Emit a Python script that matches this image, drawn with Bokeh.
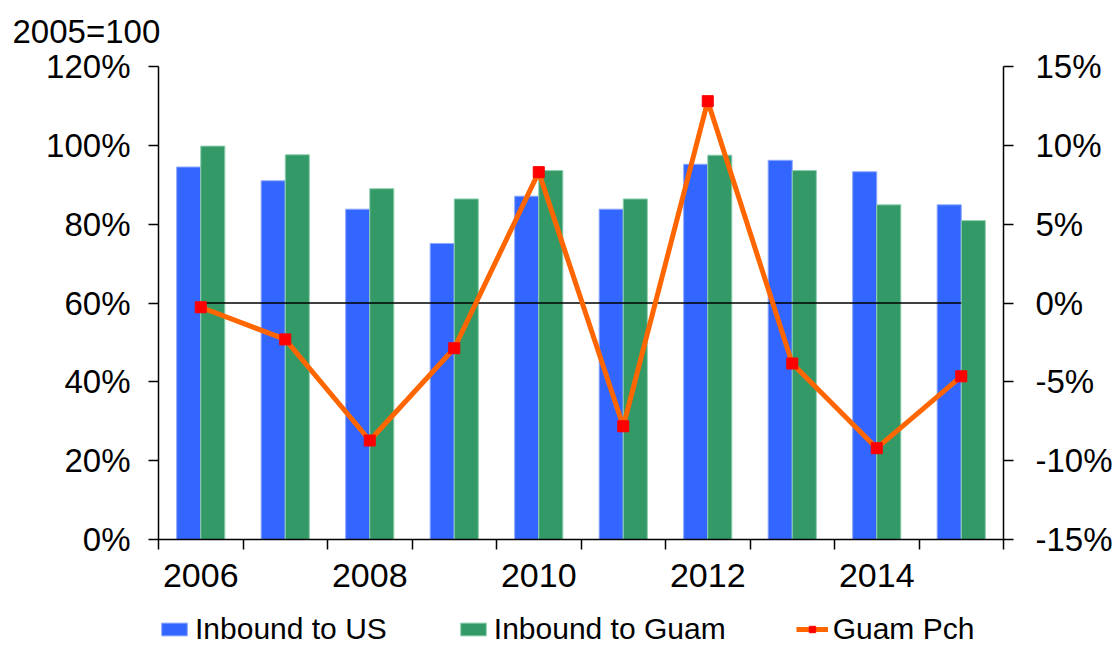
import numpy as np
from bokeh.plotting import figure
from bokeh.layouts import column
from bokeh.models import (Range1d, LinearAxis, FixedTicker, PrintfTickFormatter,
                          Legend, LegendItem, ColumnDataSource)
from bokeh.embed import file_html
from bokeh.resources import INLINE

years = ["2006", "2007", "2008", "2009", "2010", "2011", "2012", "2013", "2014", "2015"]
inbound_us = [94.5, 91.0, 83.8, 75.1, 87.1, 83.8, 95.2, 96.2, 93.3, 84.9]
inbound_guam = [99.8, 97.6, 89.0, 86.4, 93.6, 86.4, 97.5, 93.6, 84.9, 80.9]
guam_pch = [-0.27, -2.31, -8.72, -2.87, 8.3, -7.82, 12.8, -3.84, -9.21, -4.65]
left_ticks = [0, 20, 40, 60, 80, 100, 120]
right_ticks = [-15, -10, -5, 0, 5, 10, 15]
x_label_years = ["2006", "2008", "2010", "2012", "2014"]
series_names = ["Inbound to US", "Inbound to Guam", "Guam Pch"]

FONT = "Liberation Sans"
BLUE = "#3366FF"
GREEN = "#339966"
ORANGE = "#FF6600"
RED = "#FF0000"

n = len(years)
centers = np.arange(n) + 0.5
bw = 0.285
src = ColumnDataSource(dict(
    xb=centers - bw / 2, xg=centers + bw / 2, xc=centers,
    us=inbound_us, guam=inbound_guam, pch=guam_pch))

W = 1117
p = figure(width=W, height=612, output_backend="svg", toolbar_location=None,
           x_range=Range1d(0, n), y_range=Range1d(0, 120),
           min_border_left=158, min_border_right=114, min_border_top=66,
           min_border_bottom=73)
p.outline_line_color = None
p.xgrid.grid_line_color = None
p.ygrid.grid_line_color = None
p.extra_y_ranges = {"pch": Range1d(-15, 15)}

xa = p.below[0]
yl = p.left[0]

p.title.text = "2005=100"
p.title.text_font = FONT
p.title.text_font_size = "33px"
p.title.text_font_style = "normal"
p.title.text_color = "black"
p.title.align = "left"
p.title.offset = -146
p.title.standoff = 0

# invisible spacer axis above the frame (blank label only) so the title sits higher
spacer = LinearAxis(ticker=FixedTicker(ticks=[]), axis_line_color=None,
                    major_tick_line_color=None, minor_tick_line_color=None,
                    major_tick_out=0, major_tick_in=0, minor_tick_out=0,
                    minor_tick_in=0, major_label_standoff=0,
                    axis_label=".", axis_label_text_font_size="20px",
                    axis_label_text_alpha=0, axis_label_standoff=0)
p.add_layout(spacer, "above")

bar_us = dict(fill_color=BLUE, line_color="#8fa8ff", line_width=1)
bar_gu = dict(fill_color=GREEN, line_color="#8fcfb0", line_width=1)
line_kw = dict(line_color=ORANGE, line_width=5)

p.vbar(x="xb", top="us", width=bw, source=src, **bar_us)
p.vbar(x="xg", top="guam", width=bw, source=src, **bar_gu)

p.line(x=[centers[0], centers[-1]], y=[0, 0], y_range_name="pch",
       line_color="black", line_width=1.5)

p.line(x="xc", y="pch", source=src, y_range_name="pch", **line_kw)
p.scatter(x="xc", y="pch", source=src, y_range_name="pch",
          marker="square", size=11, fill_color=RED, line_color=RED)


def style_axis(ax, size="33px"):
    ax.axis_line_color = "black"
    ax.axis_line_width = 1.5
    ax.major_tick_line_color = "black"
    ax.major_tick_line_width = 1.5
    ax.major_tick_in = 0
    ax.major_tick_out = 10
    ax.minor_tick_line_color = None
    ax.major_label_text_font = FONT
    ax.major_label_text_font_size = size
    ax.major_label_text_color = "black"


yl.ticker = FixedTicker(ticks=left_ticks)
yl.formatter = PrintfTickFormatter(format="%d%%")
style_axis(yl)
yl.major_label_standoff = 18

yr = LinearAxis(y_range_name="pch", ticker=FixedTicker(ticks=right_ticks),
                formatter=PrintfTickFormatter(format="%d%%"))
style_axis(yr)
yr.major_label_standoff = 22
p.add_layout(yr, "right")

label_pos = [float(centers[years.index(y)]) for y in x_label_years]
xa.ticker = FixedTicker(ticks=label_pos, minor_ticks=list(range(n + 1)))
xa.major_label_overrides = {pos: lab for pos, lab in zip(label_pos, x_label_years)}
style_axis(xa, "34px")
xa.major_tick_line_color = None
xa.minor_tick_line_color = "black"
xa.minor_tick_line_width = 1.5
xa.minor_tick_in = 0
xa.minor_tick_out = 10
xa.major_label_standoff = 14

# legend strip below the chart
pl = figure(width=W, height=34, output_backend="svg", toolbar_location=None,
            x_range=Range1d(0, 1), y_range=Range1d(0, 1),
            x_axis_type=None, y_axis_type=None,
            min_border=0, min_border_left=0, min_border_right=0,
            min_border_top=0, min_border_bottom=0)
pl.outline_line_color = None
pl.xgrid.grid_line_color = None
pl.ygrid.grid_line_color = None
g_us = pl.vbar(x=[0.5], top=[-5], bottom=[-6], width=0.1, **bar_us)
g_gu = pl.vbar(x=[0.5], top=[-5], bottom=[-6], width=0.1, **bar_gu)
g_ln = pl.line(x=[0.4, 0.6], y=[-5, -5], **line_kw)
g_mk = pl.scatter(x=[0.5], y=[-5], marker="square", size=9, fill_color=RED, line_color=RED)

legend = Legend(items=[
    LegendItem(label=series_names[0], renderers=[g_us]),
    LegendItem(label=series_names[1], renderers=[g_gu]),
    LegendItem(label=series_names[2], renderers=[g_ln, g_mk]),
], orientation="horizontal", location=(0, 0))
legend.label_text_font = FONT
legend.label_text_font_size = "30px"
legend.label_text_color = "black"
legend.glyph_width = 32
legend.glyph_height = 16
legend.label_standoff = 5
legend.spacing = 70
legend.padding = 0
legend.margin = 0
legend.border_line_color = None
legend.background_fill_color = None
legend.background_fill_alpha = 0
pl.add_layout(legend, "center")

layout = column(p, pl, spacing=0)
open("out.html", "w").write(file_html(layout, INLINE))
